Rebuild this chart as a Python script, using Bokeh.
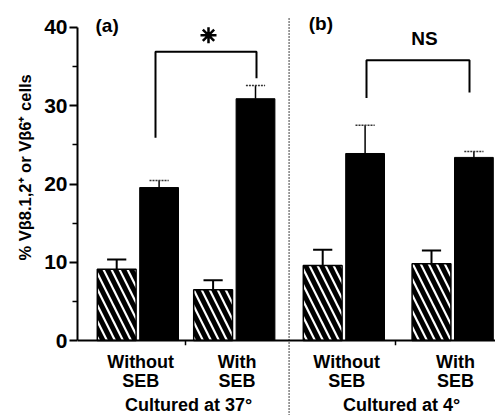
import math
from bokeh.plotting import figure
from bokeh.models import FixedTicker, Title
from bokeh.core.properties import value
from bokeh.embed import file_html
from bokeh.resources import INLINE

# ---- data ----
group_line1 = ["Without", "With", "Without", "With"]
group_line2 = ["SEB", "SEB", "SEB", "SEB"]
hatched_vals = [9.1, 6.5, 9.6, 9.8]
hatched_err = [1.25, 1.2, 2.0, 1.7]
black_vals = [19.55, 30.9, 23.9, 23.4]
black_err = [0.9, 1.7, 3.6, 0.75]
section_labels = ["Cultured at 37°", "Cultured at 4°"]
panel_labels = ["(a)", "(b)"]
sig_labels = ["*", "NS"]
y_ticks = [0, 10, 20, 30, 40]
y_minor = [5, 15, 25, 35]
y_title = "% Vβ8.1,2⁺ or Vβ6⁺ cells"

# ---- layout positions ----
group_x = [1.51, 3.92, 6.66, 9.38]
pair_off = 0.53
bar_w = 0.97
cap_half = 0.24
label_dx = 0.07
section_x = [2.78, 8.1]
section_tick_x = [2.7, 7.95]
separator_x = 5.29
panel_x = [0.45, 5.78]
panel_y = [40.2, 40.45]
bracket_x = [[1.95, 4.475], [7.225, 9.8]]
bracket_top = [36.9, 35.8]
bracket_bottom = [[25.9, 33.5], [31.0, 31.7]]
sig_x = [3.275, 8.675]
sig_y = [39.0, 38.6]

FONT = "Liberation Sans"
XR = (0, 10.45)
YR = (-9.58, 43.45)

p = figure(width=495, height=415, x_range=XR, y_range=YR,
           output_backend="svg", toolbar_location=None,
           x_axis_location=None, y_axis_location="left",
           min_border_left=77, min_border_right=0,
           min_border_top=0, min_border_bottom=0)
p.outline_line_color = None
p.grid.visible = False
p.background_fill_color = "white"

ax = p.yaxis[0]
ax.ticker = FixedTicker(ticks=y_ticks, minor_ticks=y_minor)
ax.bounds = (0, 40)
ax.axis_line_width = 2
ax.major_tick_line_width = 2
ax.minor_tick_line_width = 1.5
ax.major_tick_in = 0
ax.minor_tick_in = 0
ax.major_tick_out = 8
ax.minor_tick_out = 5
ax.major_label_standoff = 2
ax.major_label_text_font = FONT
ax.major_label_text_font_style = "bold"
ax.major_label_text_font_size = "21px"
ax.major_label_text_color = "black"

p.add_layout(Title(text=y_title, align="left", offset=155,
                   text_font=FONT, text_font_style="bold", text_font_size="16.5px",
                   text_color="black", standoff=16), "left")

hx = [g - pair_off for g in group_x]
bx = [g + pair_off for g in group_x]

# bars
p.vbar(x=hx, top=hatched_vals, width=bar_w, bottom=0,
       fill_color="white", line_color="black", line_width=1.5,
       hatch_pattern="\\", hatch_scale=16, hatch_weight=5, hatch_color="black")
p.vbar(x=bx, top=black_vals, width=bar_w, bottom=0,
       fill_color="black", line_color="black", line_width=1)

# error bars
h_hi = [v + e for v, e in zip(hatched_vals, hatched_err)]
b_hi = [v + e for v, e in zip(black_vals, black_err)]
p.segment(x0=hx, y0=hatched_vals, x1=hx, y1=h_hi, line_color="black", line_width=2)
p.segment(x0=[x - cap_half for x in hx], y0=h_hi, x1=[x + cap_half for x in hx], y1=h_hi,
          line_color="black", line_width=2)
p.segment(x0=bx, y0=black_vals, x1=bx, y1=b_hi, line_color="black", line_width=1.5)
p.segment(x0=[x - cap_half for x in bx], y0=b_hi, x1=[x + cap_half for x in bx], y1=b_hi,
          line_color="#333333", line_width=1.5, line_dash="2 1")

# baseline and small ticks
p.segment(x0=[XR[0]], y0=[0], x1=[XR[1]], y1=[0], line_color="black", line_width=2)
p.segment(x0=section_tick_x, y0=[0, 0], x1=section_tick_x, y1=[-0.6, -0.6],
          line_color="black", line_width=1.5)

# separator
p.segment(x0=[separator_x], y0=[YR[0]], x1=[separator_x], y1=[41.3],
          line_color="black", line_width=1.5, line_dash="1 2")

# brackets
bxs, bys = [], []
for (xl, xr), top, (bl, br) in zip(bracket_x, bracket_top, bracket_bottom):
    bxs.append([xl, xl, xr, xr])
    bys.append([bl, top, top, br])
p.multi_line(xs=bxs, ys=bys, line_color="black", line_width=2)

# significance marks
p.scatter(x=[sig_x[0]], y=[sig_y[0]], marker="asterisk", size=16,
          line_color="black", line_width=2.5)
p.text(x=[sig_x[1]], y=[sig_y[1]], text=[sig_labels[1]], text_font=value(FONT),
       text_font_style="bold", text_font_size="19px", text_align="center",
       text_baseline="middle", text_color="black")

# panel labels
p.text(x=panel_x, y=panel_y, text=panel_labels, text_font=value(FONT),
       text_font_style="bold", text_font_size="19px", text_align="left",
       text_baseline="middle", text_color="black")

# category labels
lx = [g + label_dx for g in group_x]
for txt, yy in ((group_line1, -2.68), (group_line2, -5.2)):
    p.text(x=lx, y=[yy] * 4, text=txt, text_font=value(FONT),
           text_font_style="bold", text_font_size="18px", text_align="center",
           text_baseline="middle", text_color="black")
p.text(x=section_x, y=[-8.2, -8.2], text=section_labels, text_font=value(FONT),
       text_font_style="bold", text_font_size="18px", text_align="center",
       text_baseline="middle", text_color="black")

open("out.html", "w").write(file_html(p, INLINE))
